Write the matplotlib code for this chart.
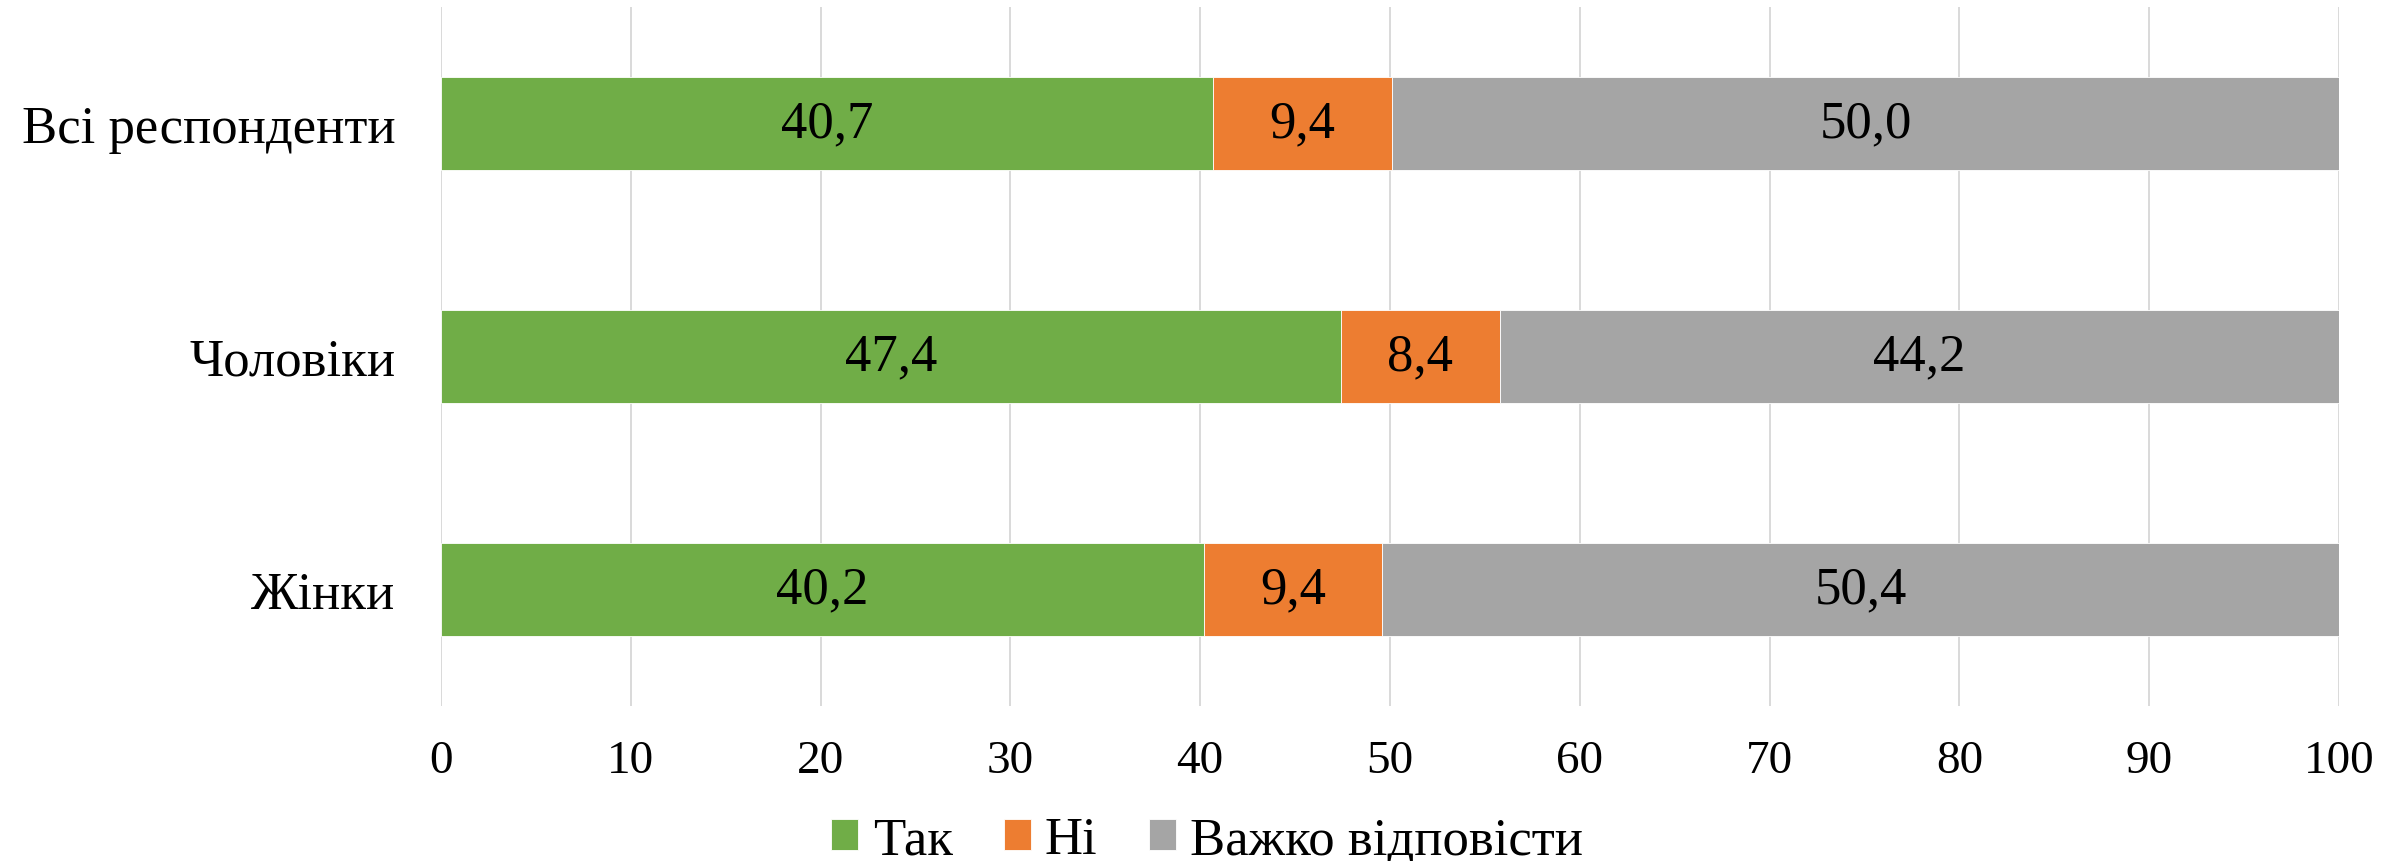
import matplotlib.pyplot as plt
import numpy as np

plt.rcParams['font.family'] = ['Liberation Serif', 'DejaVu Serif']

categories = ['Всі респонденти', 'Чоловіки', 'Жінки']
series = ['Так', 'Ні', 'Важко відповісти']
tak = [40.7, 47.4, 40.2]
ni = [9.4, 8.4, 9.4]
vazhko = [50.0, 44.2, 50.4]
colors = ['#70AD47', '#ED7D31', '#A5A5A5']

fig = plt.figure(figsize=(24, 8.62), dpi=100)
ax = fig.add_axes([0.18375, 0.1798, 0.7908, 0.811])

y = np.arange(len(categories))
left = np.zeros(len(categories))
for name, vals, col in zip(series, [tak, ni, vazhko], colors):
    bars = ax.barh(y, vals, left=left, height=0.4, color=col, label=name,
                   edgecolor='white', linewidth=0.6, zorder=3)
    for b, v in zip(bars, vals):
        ax.text(b.get_x() + b.get_width() / 2, b.get_y() + b.get_height() / 2,
                f'{v:.1f}'.replace('.', ','), ha='center', va='center',
                fontsize=38, color='black', zorder=4)
    left += np.array(vals)

ax.set_xlim(0, 100)
ax.set_ylim(len(categories) - 0.5, -0.5)
ax.set_xticks(range(0, 101, 10))
ax.set_yticks(y)
ax.set_yticklabels(categories, fontsize=38)
ax.tick_params(axis='x', labelsize=34, length=0, pad=24)
ax.tick_params(axis='y', length=0, pad=33)
ax.grid(axis='x', color='#D9D9D9', linewidth=1.4, zorder=0)
for s in ax.spines.values():
    s.set_visible(False)

fig.legend(loc='center', bbox_to_anchor=(0.503, 0.024), ncol=3, frameon=False,
           fontsize=38, handlelength=0.51, handleheight=0.51, handletextpad=0.27,
           columnspacing=0.97)

plt.savefig('out.png', dpi=100)
